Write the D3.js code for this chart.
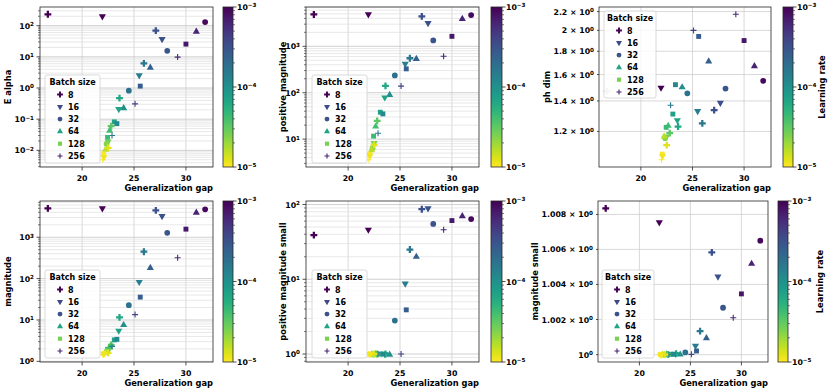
<!DOCTYPE html>
<html>
<head>
<meta charset="utf-8">
<script src="https://cdn.jsdelivr.net/npm/d3@7"></script>
<style>
body { margin: 0; background: #fff; }
text { font-family: "DejaVu Sans", sans-serif; font-weight: bold; fill: #000; }
</style>
</head>
<body>
<svg id="chart" width="831" height="390"></svg>
<script>
// one entry per training run
const gap = [16.7, 21.95, 31.85, 31.0, 27.1, 27.7, 30.0, 28.2, 29.2, 25.95, 26.57, 25.5, 25.6, 24.5, 25.1, 23.6, 24.0, 23.53, 23.1, 23.35, 22.8, 22.65, 22.88, 22.45, 22.5, 22.35, 22.25, 22.5, 22.07, 22.0, 22.1];
const batch = [8, 16, 32, 64, 8, 16, 128, 32, 256, 8, 64, 16, 128, 32, 256, 8, 64, 16, 128, 128, 8, 64, 256, 128, 16, 32, 64, 8, 128, 256, 16];
const lr = [1e-3, 1e-3, 9e-4, 6.3e-4, 3.2e-4, 3.2e-4, 7.6e-4, 3e-4, 5.8e-4, 1.6e-4, 2.5e-4, 1.45e-4, 2.6e-4, 1.8e-4, 4e-4, 6.3e-5, 1e-4, 6.9e-5, 7e-5, 1.15e-4, 3.2e-5, 4e-5, 1.6e-4, 4.4e-5, 2.7e-5, 2.3e-5, 1.6e-5, 1.26e-5, 1e-5, 1e-5, 1.1e-5];

const eAlpha = [232, 200, 131, 64, 69, 37, 25.6, 15.6, 9.8, 6.2, 4.5, 2.56, 1.15, 0.82, 0.31, 0.476, 0.227, 0.21, 0.082, 0.072, 0.06, 0.043, 0.03, 0.026, 0.019, 0.016, 0.0104, 0.012, 0.0076, 0.005, 0.0061];
const posMag = [4850, 4900, 4700, 3900, 4400, 3150, 1640, 1340, 610, 553, 535, 420, 327, 235, 139, 140, 90, 79, 38, 35, 24.7, 18.7, 13.4, 11.6, 8.2, 6.4, 5.8, 7.5, 4.7, 3.6, 4.4];
const phDim = [1.469, 1.497, 1.55, 1.67, 1.336, 1.386, 1.90, 1.49, 2.17, 1.25, 1.71, 1.33, 1.94, 1.455, 2.0, 1.23, 1.50, 1.27, 1.31, 1.52, 1.19, 1.235, 1.37, 1.225, 1.17, 1.16, 1.17, 1.12, 1.07, 1.04, 1.06];
const magnitude = [5000, 5000, 4730, 3920, 4450, 3250, 1570, 1280, 320, 447, 182, 83, 35.7, 22.8, 13.5, 11.6, 7.55, 5.5, 3.3, 3.4, 2.5, 2.2, 2.3, 1.96, 1.8, 1.72, 1.65, 1.6, 1.55, 1.45, 1.5];
const posMagSmall = [39, 46, 64, 70, 86.6, 89, 61, 55, 46, 25, 20, 8.75, 3.9, 2.8, 1, 1, 0.98, 1, 1, 1, 1, 1, 1, 1, 1, 1, 1, 1, 1, 1, 1];
const magSmall = [1.00835, 1.00755, 1.0065, 1.00518, 1.00583, 1.00445, 1.00346, 1.00267, 1.0021, 1.00134, 1.00094, 1.0005, 1.00021, 1.00013, 1.00002, 1.00006, 1.00001, 1.00004, 1.00002, 1.00003, 1.00001, 1.00002, 1.00001, 1.0, 1.00001, 1.0, 1.0, 1.0, 1.0, 1.0, 1.0];

const batchSizes = [8, 16, 32, 64, 128, 256];
const legendColors = ["#440154", "#3e4a89", "#3b528b", "#20a386", "#7ad151", "#482173"];
const xTicks = [20, 25, 30];
const phDimTicks = [1.2, 1.4, 1.6, 1.8, 2.0, 2.2];
const magSmallTicks = [1.000, 1.002, 1.004, 1.006, 1.008];
const lrTicks = [1e-5, 1e-4, 1e-3];

const svg = d3.select("#chart");
const FS = 7.8;

const grad = svg.append("defs").append("linearGradient")
    .attr("id", "viridis").attr("x1", 0).attr("y1", 0).attr("x2", 0).attr("y2", 1);
d3.range(0, 1.0001, 0.05).forEach(t =>
    grad.append("stop").attr("offset", t).attr("stop-color", d3.interpolateViridis(t)));

const lrPos = d3.scaleLog().domain([1e-5, 1e-3]).range([1, 0]);
const lrColor = v => d3.interpolateViridis(lrPos(v));

function padLog(vals) {
    const lo = Math.log10(d3.min(vals)), hi = Math.log10(d3.max(vals));
    const p = (hi - lo) * 0.05;
    return [10 ** (lo - p), 10 ** (hi + p)];
}
const gx = d3.extent(gap), gp = (gx[1] - gx[0]) * 0.05;
const xDomain = [gx[0] - gp, gx[1] + gp];

const panels = [
    {vals: eAlpha, label: "E alpha", lx: 8, box: [40, 213, 7, 167], cb: [223, 233], leg: [45, 75, 55, 88]},
    {vals: posMag, label: "positive magnitude", lx: 283, box: [306, 479, 7, 167], cb: [491, 502], leg: [312, 75, 55, 88]},
    {vals: phDim, label: "ph dim", lx: 547, box: [599, 771, 7, 167], cb: [783, 793], leg: [604, 11, 52, 87], ticks: phDimTicks, cbLabel: 822, faded: [0]},
    {vals: magnitude, label: "magnitude", lx: 8, box: [40, 213, 201, 362], cb: [223, 233], leg: [45, 270, 55, 88]},
    {vals: posMagSmall, label: "positive magnitude small", lx: 283, box: [306, 479, 201, 362], cb: [491, 502], leg: [312, 270, 55, 88]},
    {vals: magSmall, label: "magnitude small", lx: 535, box: [598, 768, 201, 362], cb: [778, 788], leg: [602, 270, 52, 88], ticks: magSmallTicks, cbLabel: 820}
];

const symbolFor = {8: d3.symbolCross, 16: d3.symbolTriangle, 32: d3.symbolCircle, 64: d3.symbolTriangle, 128: d3.symbolSquare};
const sizeFor = {8: 26, 16: 22, 32: 26, 64: 22, 128: 24};

function marker(g, b, x, y, color, k) {
    if (b === 256) {
        const h = 3 * k;
        return g.append("path").attr("d", `M${x - h},${y}H${x + h}M${x},${y - h}V${y + h}`)
            .attr("stroke", color).attr("stroke-width", 1.1).attr("fill", "none");
    }
    return g.append("path").attr("d", d3.symbol().type(symbolFor[b]).size(sizeFor[b] * k * k)())
        .attr("transform", `translate(${x},${y})` + (b === 16 ? " rotate(180)" : ""))
        .attr("fill", color);
}

function powLabel(sel, base, exp) {
    sel.text(base);
    sel.append("tspan").attr("dy", "-0.45em").attr("font-size", FS * 0.72).text(exp);
}
const expStr = k => (k < 0 ? "\u2212" + (-k) : String(k));

function logTicks(dom) {
    const major = [], minor = [];
    for (let k = Math.floor(Math.log10(dom[0])); k <= Math.ceil(Math.log10(dom[1])); k++) {
        const v = 10 ** k;
        if (v >= dom[0] && v <= dom[1]) major.push(k);
        for (let m = 2; m < 10; m++) {
            const w = m * v;
            if (w >= dom[0] && w <= dom[1]) minor.push(w);
        }
    }
    return {major, minor};
}

panels.forEach(p => {
    const [x0, x1, y0, y1] = p.box;
    const x = d3.scaleLinear().domain(xDomain).range([x0, x1]);
    const y = d3.scaleLog().domain(padLog(p.vals)).range([y1, y0]);
    const g = svg.append("g");
    const grid = g.append("g").attr("fill", "none");
    const axes = g.append("g").attr("stroke", "#262626").attr("stroke-width", 0.8);

    // x grid + ticks
    xTicks.forEach(t => {
        grid.append("line").attr("x1", x(t)).attr("x2", x(t)).attr("y1", y0).attr("y2", y1)
            .attr("stroke", "#cfcfcf").attr("stroke-width", 0.8);
        axes.append("line").attr("x1", x(t)).attr("x2", x(t)).attr("y1", y1).attr("y2", y1 + 3.5);
        g.append("text").attr("x", x(t)).attr("y", y1 + 13.5).attr("text-anchor", "middle")
            .attr("font-size", FS).text(t);
    });

    // y grid + ticks
    if (p.ticks) {
        p.ticks.filter(t => t >= y.domain()[0] && t <= y.domain()[1]).forEach(t => {
            grid.append("line").attr("x1", x0).attr("x2", x1).attr("y1", y(t)).attr("y2", y(t))
                .attr("stroke", "#cfcfcf").attr("stroke-width", 0.8);
            axes.append("line").attr("x1", x0 - 2).attr("x2", x0).attr("y1", y(t)).attr("y2", y(t));
            const lab = g.append("text").attr("x", x0 - 5).attr("y", y(t) + 3)
                .attr("text-anchor", "end").attr("font-size", FS);
            powLabel(lab, t === 1 ? "10" : `${+t.toFixed(3)} \u00d7 10`, "0");
        });
    } else {
        const lt = logTicks(y.domain());
        lt.minor.forEach(v => {
            grid.append("line").attr("x1", x0).attr("x2", x1).attr("y1", y(v)).attr("y2", y(v))
                .attr("stroke", "#dedede").attr("stroke-width", 0.7);
            axes.append("line").attr("x1", x0 - 2).attr("x2", x0).attr("y1", y(v)).attr("y2", y(v))
                .attr("stroke-width", 0.6);
        });
        lt.major.forEach(k => {
            const v = 10 ** k;
            grid.append("line").attr("x1", x0).attr("x2", x1).attr("y1", y(v)).attr("y2", y(v))
                .attr("stroke", "#c4c4c4").attr("stroke-width", 0.8);
            axes.append("line").attr("x1", x0 - 3.5).attr("x2", x0).attr("y1", y(v)).attr("y2", y(v));
            const lab = g.append("text").attr("x", x0 - 6).attr("y", y(v) + 3)
                .attr("text-anchor", "end").attr("font-size", FS);
            powLabel(lab, "10", expStr(k));
        });
    }

    // points
    const pts = g.append("g");
    gap.forEach((gv, i) => {
        const m = marker(pts, batch[i], x(gv), y(p.vals[i]), lrColor(lr[i]), 1);
        if (p.faded && p.faded.includes(i)) m.attr("opacity", 0.22);
    });

    axes.append("rect").attr("x", x0).attr("y", y0).attr("width", x1 - x0).attr("height", y1 - y0)
        .attr("fill", "none");

    // labels
    g.append("text").attr("x", x1).attr("y", y1 + 23.5).attr("text-anchor", "end")
        .attr("font-size", 8.3).text("Generalization gap");
    g.append("text").attr("transform", `translate(${p.lx},${(y0 + y1) / 2}) rotate(-90)`)
        .attr("dy", "0.35em").attr("text-anchor", "middle").attr("font-size", 8.3).text(p.label);

    // legend
    const [lx, ly, lw, lh] = p.leg;
    const lg = g.append("g");
    lg.append("rect").attr("x", lx).attr("y", ly).attr("width", lw).attr("height", lh).attr("rx", 2)
        .attr("fill", "#fff").attr("fill-opacity", 0.8).attr("stroke", "#d0d0d0").attr("stroke-width", 0.8);
    lg.append("text").attr("x", lx + lw / 2).attr("y", ly + 9.8).attr("text-anchor", "middle")
        .attr("font-size", 8).text("Batch size");
    batchSizes.forEach((b, j) => {
        const cy = ly + 19.5 + j * 12.3;
        marker(lg, b, lx + 15, cy, legendColors[j], 0.85);
        lg.append("text").attr("x", lx + 23).attr("y", cy + 3).attr("font-size", 8).text(b);
    });

    // colorbar
    const [c0, c1] = p.cb;
    const cy = d3.scaleLog().domain([1e-5, 1e-3]).range([y1, y0]);
    g.append("rect").attr("x", c0).attr("y", y0).attr("width", c1 - c0).attr("height", y1 - y0)
        .attr("fill", "url(#viridis)").attr("stroke", "#262626").attr("stroke-width", 0.8);
    const cbTicks = g.append("g").attr("stroke", "#262626");
    lrTicks.forEach(t => {
        for (let m = 2; m < 10 && t < 1e-3; m++) {
            cbTicks.append("line").attr("x1", c1).attr("x2", c1 + 2).attr("y1", cy(m * t)).attr("y2", cy(m * t))
                .attr("stroke-width", 0.6);
        }
        cbTicks.append("line").attr("x1", c1).attr("x2", c1 + 3.5).attr("y1", cy(t)).attr("y2", cy(t))
            .attr("stroke-width", 0.8);
        const lab = g.append("text").attr("x", c1 + 4).attr("y", cy(t) + 3).attr("font-size", FS);
        powLabel(lab, "10", expStr(Math.round(Math.log10(t))));
    });
    if (p.cbLabel) {
        g.append("text").attr("transform", `translate(${p.cbLabel},${(y0 + y1) / 2}) rotate(-90)`)
            .attr("dy", "0.35em").attr("text-anchor", "middle").attr("font-size", 8.3).text("Learning rate");
    }
});
</script>
</body>
</html>
